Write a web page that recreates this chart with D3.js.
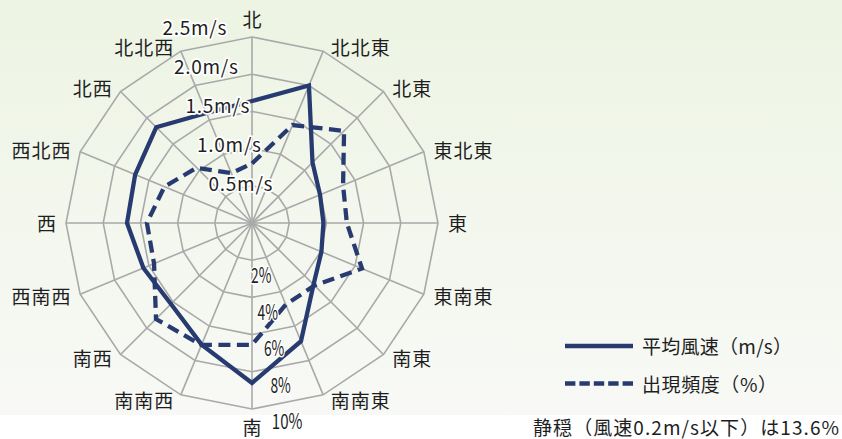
<!DOCTYPE html>
<html><head><meta charset="utf-8">
<script src="https://cdn.jsdelivr.net/npm/d3@7"></script>
<style>
html,body{margin:0;padding:0;background:#fff;}
svg{display:block;}
text{font-family:"Noto Sans CJK JP","Noto Sans",sans-serif;fill:#1e1e1e;}
</style>
</head><body><svg id="c" width="842" height="439"></svg>
<script>
const directions = ["北","北北東","北東","東北東","東","東南東","南東","南南東","南","南南西","南西","西南西","西","西北西","北西","北北西"];
const windSpeed = [1.64,2.0,1.15,0.99,0.96,1.01,1.17,1.72,2.15,1.77,1.54,1.58,1.68,1.70,1.82,1.60];
const frequency = [3.2,5.7,7.0,5.3,5.1,6.4,4.75,4.75,6.55,7.1,7.3,5.7,5.65,5.1,4.2,2.9];
const speedTickValues = [0.5,1.0,1.5,2.0,2.5];
const speedTickLabels = ["0.5m/s","1.0m/s","1.5m/s","2.0m/s","2.5m/s"];
const freqTickValues = [2,4,6,8,10];
const freqTickLabels = ["2%","4%","6%","8%","10%"];
const legendLabels = ["平均風速（m/s）","出現頻度（%）"];
const calmNote = "静穏（風速0.2m/s以下）は13.6%";

const svg = d3.select("#c");
const W = 842, H = 439;
const cx = 252, cy = 223, R = 186;
const navy = "#283b71";

// background
const defs = svg.append("defs");
const grad = defs.append("linearGradient").attr("id","bg").attr("x1",0).attr("y1",0).attr("x2",0).attr("y2",1);
grad.append("stop").attr("offset","0%").attr("stop-color","#edf4e3");
grad.append("stop").attr("offset","100%").attr("stop-color","#f8f9f6");
svg.append("rect").attr("width",W).attr("height",H).attr("fill","#fff");
svg.append("rect").attr("width",W).attr("height",415).attr("fill","url(#bg)");

const n = directions.length;
const angle = d3.scaleLinear().domain([0,n]).range([0,2*Math.PI]);
const rSpeed = d3.scaleLinear().domain([0,2.5]).range([0,R]);
const rFreq = d3.scaleLinear().domain([0,10]).range([0,R]);

const g = svg.append("g").attr("transform",`translate(${cx},${cy})`);

// grid rings
const idx = d3.range(n);
const ringLine = r => d3.lineRadial().angle(i=>angle(i)).radius(()=>r).curve(d3.curveLinearClosed)(idx);
g.selectAll("path.ring").data(speedTickValues).join("path").attr("class","ring")
  .attr("d",v=>ringLine(rSpeed(v))).attr("fill","none").attr("stroke","#a9a9a9").attr("stroke-width",1.6);
// spokes
g.selectAll("line.spoke").data(idx).join("line").attr("class","spoke")
  .attr("x1",0).attr("y1",0)
  .attr("x2",i=>R*Math.sin(angle(i))).attr("y2",i=>-R*Math.cos(angle(i)))
  .attr("stroke","#a9a9a9").attr("stroke-width",1.6);

// series
const freqLine = d3.lineRadial().angle((d,i)=>angle(i)).radius(d=>rFreq(d)).curve(d3.curveLinearClosed);
const speedLine = d3.lineRadial().angle((d,i)=>angle(i)).radius(d=>rSpeed(d)).curve(d3.curveLinearClosed);
g.append("path").attr("d",freqLine(frequency)).attr("fill","none").attr("stroke",navy)
  .attr("stroke-width",4.3).attr("stroke-dasharray","12,6.5").attr("stroke-linejoin","miter");
g.append("path").attr("d",speedLine(windSpeed)).attr("fill","none").attr("stroke",navy)
  .attr("stroke-width",4.3).attr("stroke-linejoin","miter");

// direction labels
g.selectAll("text.dir").data(directions).join("text").attr("class","dir")
  .each(function(d,i){
    const a = angle(i), s = Math.sin(a), c = Math.cos(a);
    const vx = R*s, vy = -R*c;
    const t = d3.select(this).text(d).attr("font-size",19).attr("dy","0.36em")
      .attr("textLength",d.length*20-1).attr("lengthAdjust","spacing");
    if (Math.abs(s) < 1e-6) {
      t.attr("text-anchor","middle").attr("x",vx).attr("y", c>0 ? vy-17 : vy+19.5);
    } else {
      const dx = 6 + 4*Math.abs(s);
      t.attr("text-anchor", s>0 ? "start" : "end")
       .attr("x", vx + (s>0?dx:-dx)).attr("y", vy - c*5 + 1.5);
    }
  });

// speed tick labels (along a line slightly left of north)
const sa = -16.5*Math.PI/180;
g.selectAll("text.stick").data(speedTickValues).join("text").attr("class","stick")
  .attr("x",v=>rSpeed(v)*1.09*Math.sin(sa)).attr("y",v=>-rSpeed(v)*1.09*Math.cos(sa))
  .attr("dy","0.36em").attr("text-anchor","middle").attr("font-size",19)
  .attr("textLength",64).attr("lengthAdjust","spacing")
  .attr("stroke","#fff").attr("stroke-width",3.5).attr("paint-order","stroke").attr("stroke-linejoin","round")
  .text((v,i)=>speedTickLabels[i]);

// frequency tick labels (slightly east of south)
const fa = 170*Math.PI/180;
g.selectAll("text.ftick").data(freqTickValues).join("text").attr("class","ftick")
  .attr("x",v=>(rFreq(v)+16)*Math.sin(fa)).attr("y",v=>-(rFreq(v)+16)*Math.cos(fa))
  .attr("dy","0.36em").attr("text-anchor","middle").attr("font-size",21)
  .attr("textLength",(v,i)=>freqTickLabels[i].length*10.2).attr("lengthAdjust","spacingAndGlyphs")
  .attr("stroke","#fff").attr("stroke-width",3).attr("paint-order","stroke").attr("stroke-linejoin","round")
  .text((v,i)=>freqTickLabels[i]);

// legend
const leg = svg.append("g");
const legY = [346,383.5];
const legLen = [150,135];
leg.selectAll("line").data(legendLabels).join("line")
  .attr("x1",565).attr("x2",633).attr("y1",(d,i)=>legY[i]).attr("y2",(d,i)=>legY[i])
  .attr("stroke",navy).attr("stroke-width",4.3)
  .attr("stroke-dasharray",(d,i)=>i===1?"10.4,4":null);
leg.selectAll("text").data(legendLabels).join("text")
  .attr("x",642).attr("y",(d,i)=>legY[i]+1.5).attr("dy","0.36em").attr("font-size",19)
  .attr("textLength",(d,i)=>legLen[i]).attr("lengthAdjust","spacing")
  .text(d=>d);
svg.append("text").attr("x",533).attr("y",428.5).attr("dy","0.36em").attr("font-size",19)
  .attr("textLength",306).attr("lengthAdjust","spacing").text(calmNote);
</script>
</body></html>
